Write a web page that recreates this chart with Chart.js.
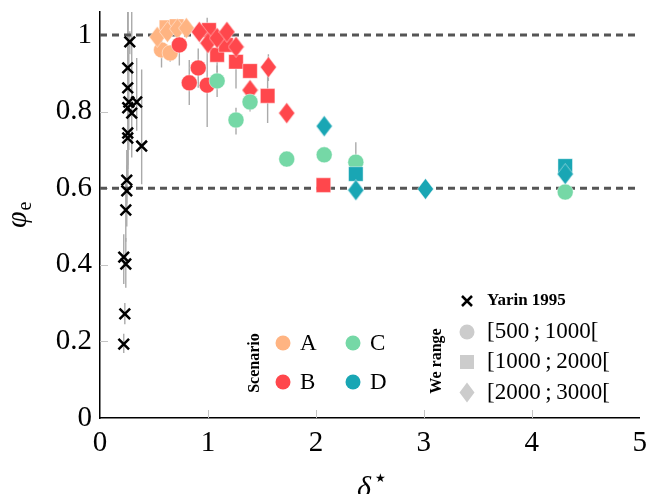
<!DOCTYPE html>
<html><head><meta charset="utf-8">
<script src="https://cdn.jsdelivr.net/npm/chart.js@4.4.1/dist/chart.umd.min.js"></script>
<style>html,body{margin:0;padding:0;background:#fff;}canvas{display:block;}</style>
</head><body>
<canvas id="c" width="651" height="494"></canvas>
<script>
// ---------- data ----------
const xTicks = [0, 1, 2, 3, 4, 5];
const yTicks = [0, 0.2, 0.4, 0.6, 0.8, 1];
const refLines = [1.0, 0.6];

const yarinLabel = 'Yarin 1995';
const yarinX  = [0.276, 0.257, 0.257, 0.267, 0.340, 0.257, 0.294, 0.257, 0.257, 0.386, 0.248, 0.248, 0.239, 0.220, 0.239, 0.230, 0.220];
const yarinY  = [0.982, 0.914, 0.862, 0.825, 0.825, 0.810, 0.796, 0.744, 0.731, 0.710, 0.621, 0.593, 0.543, 0.420, 0.402, 0.272, 0.193];
const yarinLo = [0.950, 0.800, 0.650, 0.700, 0.750, 0.660, 0.680, 0.630, 0.620, 0.610, 0.560, 0.500, 0.460, 0.350, 0.340, 0.245, 0.170];
const yarinHi = [1.010, 1.060, 1.060, 0.950, 0.940, 1.060, 1.060, 1.060, 0.840, 0.910, 0.700, 0.660, 0.620, 0.480, 0.470, 0.300, 0.220];

const scenarioNames = ['A', 'B', 'C', 'D'];
const rangeLabels = ['[500\u2009;\u20091000[', '[1000\u2009;\u20092000[', '[2000\u2009;\u20093000['];

// shape: 0 = [500;1000[ circle, 1 = [1000;2000[ square, 2 = [2000;3000[ diamond
const aX     = [0.570, 0.650, 0.616, 0.710, 0.530, 0.625, 0.717, 0.800];
const aY     = [0.961, 0.953, 1.020, 1.023, 0.995, 1.008, 1.016, 1.018];
const aShape = [0, 0, 1, 1, 2, 2, 2, 2];
const aLo    = [0.915, 0.930, null, null, null, null, null, null];
const aHi    = [0.990, 0.970, null, null, null, null, null, null];

const bX     = [0.735, 0.910, 0.827, 0.993, 1.010, 1.085, 1.167, 1.260, 1.390, 1.553, 2.070, 0.920, 1.000, 1.085, 1.176, 1.260, 1.560, 1.390, 1.730];
const bY     = [0.974, 0.914, 0.875, 0.869, 1.013, 0.948, 0.974, 0.930, 0.906, 0.841, 0.608, 1.008, 0.979, 0.992, 1.008, 0.969, 0.916, 0.856, 0.796];
const bShape = [0, 0, 0, 0, 1, 1, 1, 1, 1, 1, 1, 2, 2, 2, 2, 2, 2, 2, 2];
const bLo    = [0.920, 0.862, 0.817, 0.760, null, 0.900, null, 0.860, null, 0.770, null, null, null, null, null, null, 0.880, 0.820, null];
const bHi    = [1.000, 0.965, 0.935, 1.045, null, 0.990, null, 0.960, null, 0.900, null, null, null, null, null, null, 0.950, 0.880, null];

const cX     = [1.085, 1.390, 1.260, 1.730, 2.077, 2.370, 4.310];
const cY     = [0.880, 0.825, 0.778, 0.676, 0.687, 0.668, 0.590];
const cShape = [0, 0, 0, 0, 0, 0, 0];
const cLo    = [0.838, 0.800, 0.740, null, null, 0.660, null];
const cHi    = [0.920, 0.850, 0.810, null, null, 0.720, null];

const dX     = [2.370, 4.310, 2.077, 2.370, 3.015, 4.310];
const dY     = [0.637, 0.658, 0.762, 0.595, 0.598, 0.637];
const dShape = [1, 1, 2, 2, 2, 2];
const dLo    = [null, null, null, null, null, null];
const dHi    = [null, 0.675, null, null, null, null];

// ---------- style ----------
const COLORS = { A: '#FFB482', B: '#FF474C', C: '#75D8A6', D: '#19A6B4' };
const GRAY = '#cccccc';
const SERIF = '"Liberation Serif", "Times New Roman", serif';

function diamondCanvas(fill, w, h, edge) {
  const c = document.createElement('canvas');
  c.width = w; c.height = h;
  const g = c.getContext('2d');
  g.beginPath();
  g.moveTo(w / 2, 0.5); g.lineTo(w - 0.5, h / 2); g.lineTo(w / 2, h - 0.5); g.lineTo(0.5, h / 2);
  g.closePath();
  g.fillStyle = fill; g.fill();
  if (edge) { g.strokeStyle = edge; g.lineWidth = 1; g.stroke(); }
  return c;
}

function scenarioDataset(name, xs, ys, shapes, lo, hi, order) {
  const col = COLORS[name];
  const dia = diamondCanvas(col, 17, 22, 'rgba(255,255,255,0.45)');
  const styles = shapes.map(s => s === 0 ? 'circle' : (s === 1 ? 'rect' : dia));
  const radii = shapes.map(s => s === 0 ? 8 : (s === 1 ? 10.3 : 10));
  return {
    label: name,
    data: xs.map((x, i) => ({ x: x, y: ys[i] })),
    errLo: lo, errHi: hi,
    pointStyle: styles,
    pointRadius: radii,
    backgroundColor: col,
    borderColor: 'rgba(255,255,255,0.45)',
    borderWidth: 1,
    order: order
  };
}

const datasets = [];
refLines.forEach(v => datasets.push({
  label: 'ref', data: [{ x: xTicks[0], y: v }, { x: xTicks[xTicks.length - 1], y: v }],
  showLine: true, borderColor: '#555555', borderWidth: 3, borderDash: [7, 5], pointRadius: 0, order: 100
}));
datasets.push({
  label: yarinLabel,
  data: yarinX.map((x, i) => ({ x: x, y: yarinY[i] })),
  errLo: yarinLo, errHi: yarinHi,
  pointStyle: 'crossRot', pointRadius: 7.5, borderColor: '#000', borderWidth: 2.5, order: 50
});
datasets.push(scenarioDataset('A', aX, aY, aShape, aLo, aHi, 4));
datasets.push(scenarioDataset('B', bX, bY, bShape, bLo, bHi, 3));
datasets.push(scenarioDataset('C', cX, cY, cShape, cLo, cHi, 2));
datasets.push(scenarioDataset('D', dX, dY, dShape, dLo, dHi, 1));

const errorBars = {
  id: 'errorBars',
  beforeDatasetsDraw(chart) {
    const { ctx, chartArea: a, scales: { x, y } } = chart;
    ctx.save();
    ctx.beginPath(); ctx.rect(a.left, a.top, a.right - a.left, a.bottom - a.top); ctx.clip();
    ctx.strokeStyle = '#aaaaaa'; ctx.lineWidth = 1.4;
    chart.data.datasets.forEach(ds => {
      if (!ds.errLo) return;
      ds.data.forEach((p, i) => {
        const lo = ds.errLo[i], hi = ds.errHi[i];
        if (lo == null || hi == null) return;
        const px = x.getPixelForValue(p.x);
        ctx.beginPath();
        ctx.moveTo(px, y.getPixelForValue(lo));
        ctx.lineTo(px, y.getPixelForValue(hi));
        ctx.stroke();
      });
    });
    ctx.restore();
  }
};

const decorations = {
  id: 'decorations',
  beforeDatasetsDraw(chart) {
    const { ctx, chartArea: a, scales: { x, y } } = chart;
    ctx.save();
    ctx.strokeStyle = '#c4c4c4'; ctx.lineWidth = 1;
    yTicks.forEach(v => { if (v === 0 || v === 1) return; const py = Math.round(y.getPixelForValue(v)) + 0.5; ctx.beginPath(); ctx.moveTo(a.left, py); ctx.lineTo(a.left + 8, py); ctx.stroke(); });
    xTicks.forEach(v => { if (v === 0 || v === 5) return; const px = Math.round(x.getPixelForValue(v)) + 0.5; ctx.beginPath(); ctx.moveTo(px, a.bottom); ctx.lineTo(px, a.bottom - 8); ctx.stroke(); });
    ctx.restore();
  },
  afterDraw(chart) {
    const ctx = chart.ctx;
    ctx.save();
    ctx.fillStyle = '#000';
    // axis titles
    ctx.save();
    ctx.translate(26, 228);
    ctx.rotate(-Math.PI / 2);
    ctx.textAlign = 'left'; ctx.textBaseline = 'alphabetic';
    ctx.font = 'italic 30px ' + SERIF;
    ctx.fillText('\u03C6', 0, 0);
    const w = ctx.measureText('\u03C6').width;
    ctx.font = '20px ' + SERIF;
    ctx.fillText('e', w + 1, 5);
    ctx.restore();

    ctx.textAlign = 'left'; ctx.textBaseline = 'alphabetic';
    ctx.font = 'italic 30px ' + SERIF;
    ctx.fillText('\u03B4', 357, 497);
    ctx.font = '12px "DejaVu Sans"';
    ctx.fillText('\u2605', 375, 482);

    // legend: scenario
    ctx.save();
    ctx.translate(255, 363); ctx.rotate(-Math.PI / 2);
    ctx.font = 'bold 16px ' + SERIF; ctx.textAlign = 'center'; ctx.textBaseline = 'middle';
    ctx.fillText('Scenario', 0, 0);
    ctx.restore();
    const pos = [[283, 343], [283, 382], [353, 343], [353, 382]];
    scenarioNames.forEach((n, i) => {
      const [px, py] = pos[i];
      ctx.beginPath(); ctx.arc(px, py, 7.5, 0, Math.PI * 2); ctx.fillStyle = COLORS[n]; ctx.fill();
      ctx.fillStyle = '#000'; ctx.font = '23px ' + SERIF; ctx.textAlign = 'left'; ctx.textBaseline = 'middle';
      ctx.fillText(n, px + 17, py + 1);
    });

    // legend: We range
    ctx.save();
    ctx.translate(437, 361); ctx.rotate(-Math.PI / 2);
    ctx.font = 'bold 16px ' + SERIF; ctx.textAlign = 'center'; ctx.textBaseline = 'middle';
    ctx.fillText('We range', 0, 0);
    ctx.restore();

    // yarin entry
    ctx.strokeStyle = '#000'; ctx.lineWidth = 2.5;
    ctx.beginPath(); ctx.moveTo(462, 296); ctx.lineTo(472, 306); ctx.moveTo(472, 296); ctx.lineTo(462, 306); ctx.stroke();
    ctx.fillStyle = '#000'; ctx.font = 'bold 17px ' + SERIF; ctx.textAlign = 'left'; ctx.textBaseline = 'middle';
    ctx.fillText(yarinLabel, 487, 301);

    ctx.fillStyle = GRAY;
    ctx.beginPath(); ctx.arc(467, 332, 7.5, 0, Math.PI * 2); ctx.fill();
    ctx.fillRect(460, 355, 14, 14);
    ctx.drawImage(diamondCanvas(GRAY, 16, 21, null), 459, 382);
    ctx.fillStyle = '#000'; ctx.font = '23px ' + SERIF;
    ctx.fillText(rangeLabels[0], 487, 332);
    ctx.fillText(rangeLabels[1], 487, 362);
    ctx.fillText(rangeLabels[2], 487, 393);
    ctx.restore();
  }
};

new Chart(document.getElementById('c'), {
  type: 'scatter',
  data: { datasets: datasets },
  options: {
    responsive: false,
    animation: false,
    devicePixelRatio: 1,
    layout: { padding: { top: 12, right: 6, left: 0, bottom: 0 } },
    plugins: { legend: { display: false }, tooltip: { enabled: false } },
    scales: {
      x: {
        type: 'linear', min: 0, max: 5,
        afterBuildTicks: s => { s.ticks = xTicks.map(v => ({ value: v })); },
        afterFit: s => { s.height = 76; s.paddingLeft = 0; s.paddingRight = 0; },
        grid: { display: false, drawTicks: false },
        border: { display: true, color: '#000', width: 1.5 },
        ticks: { font: { family: SERIF, size: 29 }, color: '#000', padding: 8, maxRotation: 0, callback: v => String(v) }
      },
      y: {
        type: 'linear', min: 0, max: 1.06,
        afterBuildTicks: s => { s.ticks = yTicks.map(v => ({ value: v })); },
        afterFit: s => { s.width = 100; s.paddingTop = 0; s.paddingBottom = 0; },
        grid: { display: false, drawTicks: false },
        border: { display: true, color: '#000', width: 1.5 },
        ticks: { font: { family: SERIF, size: 29 }, color: '#000', padding: 8, callback: v => (v === 0 || v === 1) ? String(v) : v.toFixed(1) }
      }
    }
  },
  plugins: [errorBars, decorations]
});
</script>
</body></html>
